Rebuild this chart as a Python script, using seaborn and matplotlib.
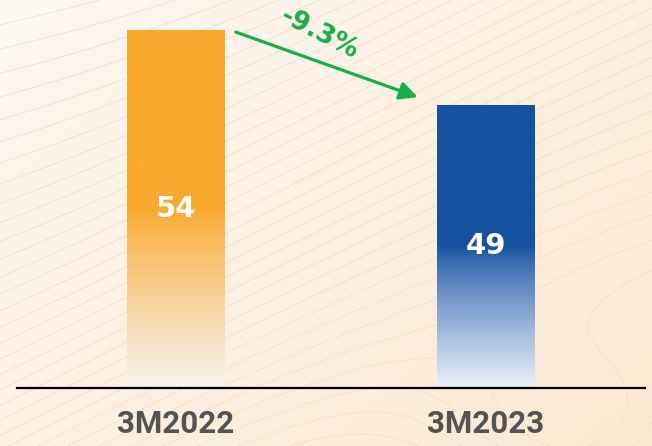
import numpy as np
import pandas as pd
import matplotlib
matplotlib.use("Agg")
import matplotlib.pyplot as plt
import matplotlib.colors as mcolors
from matplotlib import font_manager as fm
import seaborn as sns

# ---- data ----
categories = ["3M2022", "3M2023"]
values = [54, 49]
value_labels = ["54", "49"]
change_label = "-9.3%"

# ---- style ----
bar_top_colors = ["#F9A92F", "#1553A1"]
bar_bottom_colors = ["#F5F3EF", "#EBF1FA"]
green = "#17AE4B"
gray_text = "#535353"

sns.set_theme(style="white")
available = {f.name for f in fm.fontManager.ttflist}
label_font = "Liberation Sans Narrow" if "Liberation Sans Narrow" in available else "Roboto"
plt.rcParams["font.family"] = ["DejaVu Sans"]

fig = plt.figure(figsize=(6.52, 4.46), dpi=100)

# background
ax_bg = fig.add_axes([0, 0, 1, 1], zorder=-10)
gx, gy = np.meshgrid(np.linspace(0, 1, 300), np.linspace(0, 1, 200))
t = np.clip(0.55 * gx + 0.45 * gy, 0, 1)
c0 = np.array(mcolors.to_rgb("#FDF8F2"))
c1 = np.array(mcolors.to_rgb("#FBE8D2"))
bg = c0[None, None, :] * (1 - t[..., None]) + c1[None, None, :] * t[..., None]
ax_bg.imshow(bg, extent=[0, 1, 1, 0], aspect="auto", interpolation="bilinear")
Z = (1 - gy) * 1.2 - 0.7 * gx + 0.10 * np.sin(4 * gx + 3 * gy) \
    + 0.35 * np.exp(-((gx - 0.9) ** 2 + (gy - 1.0) ** 2) / 0.06)
ax_bg.contour(gx, gy, Z, levels=38, colors="#EDCFA8", linewidths=0.7, alpha=0.5)
ax_bg.set_xlim(0, 1)
ax_bg.set_ylim(1, 0)
ax_bg.axis("off")

# main axes
ax = fig.add_axes([17 / 652, 1 - 388 / 446, 628 / 652, 388 / 446])
ax.set_facecolor("none")
df = pd.DataFrame({"cat": categories, "val": values})
sns.barplot(data=df, x="cat", y="val", hue="cat", palette=bar_top_colors,
            legend=False, width=0.316, ax=ax, saturation=1)

y_bottom, y_top = 30.0, 56.01
ax.set_ylim(y_bottom, y_top)
ax.set_xlim(-0.513, 1.513)

# gradient fill for each bar
for i, patch in enumerate(ax.patches):
    x0 = patch.get_x()
    w = patch.get_width()
    top = patch.get_height()
    mid = (y_bottom + top) / 2
    n = 256
    ys = np.linspace(top, y_bottom, n)
    ct = np.array(mcolors.to_rgb(bar_top_colors[i]))
    cb = np.array(mcolors.to_rgb(bar_bottom_colors[i]))
    frac = np.clip((mid - ys) / (mid - y_bottom), 0, 1)[:, None]
    frac = frac ** 0.85
    cols = ct * (1 - frac) + cb * frac
    img = cols[:, None, :]
    im = ax.imshow(img, extent=[x0, x0 + w, y_bottom, top], aspect="auto",
                   interpolation="bilinear", zorder=patch.get_zorder() + 0.1)
    im.set_clip_path(patch)
    patch.set_facecolor("none")
    patch.set_edgecolor("none")
    ax.text(x0 + w / 2, (y_bottom + top) / 2, value_labels[i], ha="center", va="center",
            color="white", fontsize=21, fontweight="bold", zorder=5)

# change arrow
ax.annotate("", xy=(0.780, 49.5), xytext=(0.193, 53.86),
            arrowprops=dict(arrowstyle="-|>,head_length=0.9,head_width=0.45", color=green,
                            lw=2.3, shrinkA=0, shrinkB=0), zorder=6)
ax.text(0.463, 53.75, change_label, rotation=-27, ha="center", va="center",
        color=green, fontsize=19, fontweight="bold", zorder=6, rotation_mode="anchor")

# axes styling
for s in ["top", "right", "left"]:
    ax.spines[s].set_visible(False)
ax.spines["bottom"].set_color("black")
ax.spines["bottom"].set_linewidth(1.6)
ax.set_yticks([])
ax.set_xlabel("")
ax.set_ylabel("")
ax.tick_params(axis="x", length=0, pad=15)
for lbl in ax.get_xticklabels():
    lbl.set_fontfamily([label_font, "DejaVu Sans"])
    lbl.set_fontsize(22.5)
    lbl.set_fontweight("bold")
    lbl.set_color(gray_text)

fig.savefig("out.png", dpi=100)
